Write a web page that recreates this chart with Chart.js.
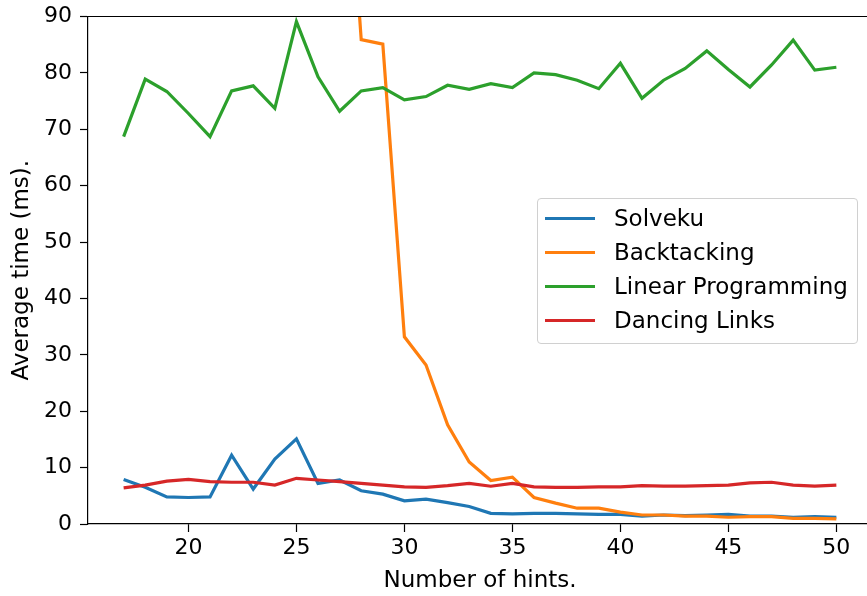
<!DOCTYPE html>
<html>
<head>
<meta charset="utf-8">
<script src="https://cdn.jsdelivr.net/npm/chart.js@4/dist/chart.umd.min.js"></script>
<style>
  body { margin: 0; overflow: hidden; background: #fff; }
  #wrap { position: relative; width: 880px; height: 596px; }
  #legend {
    position: absolute; left: 537px; top: 198px; width: 319px; height: 142px;
    border: 1.5px solid #d0d0d0; border-radius: 4px; background: rgba(255,255,255,0.8);
    font-family: "DejaVu Sans", sans-serif; font-size: 23px; color: #000;
    padding-top: 2px; box-sizing: content-box;
  }
  #legend .row { height: 34px; display: flex; align-items: center; }
  #legend .swatch { width: 50px; height: 3px; margin-left: 7px; margin-right: 19px; }
</style>
</head>
<body>
<div id="wrap">
  <canvas id="chart" width="880" height="596"></canvas>
  <div id="legend"></div>
</div>
<script>
var hints = [17, 18, 19, 20, 21, 22, 23, 24, 25, 26, 27, 28, 29, 30, 31, 32, 33,
             34, 35, 36, 37, 38, 39, 40, 41, 42, 43, 44, 45, 46, 47, 48, 49, 50];

var solveku = [7.9, 6.5, 4.8, 4.7, 4.8, 12.2, 6.2, 11.5, 15.1, 7.2, 7.8, 5.9, 5.3, 4.1, 4.4, 3.8, 3.1,
               1.9, 1.8, 1.9, 1.9, 1.8, 1.7, 1.7, 1.4, 1.6, 1.5, 1.6, 1.7, 1.4, 1.4, 1.2, 1.3, 1.2];

// values below 28 hints are far above the visible range
var backtracking = [5200, 3900, 2800, 2100, 1500, 1050, 760, 520, 350, 230, 140, 85.9, 85.1, 33.2, 28.2, 17.6, 11.0,
                    7.7, 8.3, 4.7, 3.7, 2.8, 2.8, 2.1, 1.6, 1.6, 1.4, 1.4, 1.2, 1.3, 1.3, 1.0, 1.0, 0.9];

var linearProg = [68.7, 78.9, 76.7, 72.8, 68.7, 76.8, 77.7, 73.7, 89.1, 79.3, 73.2, 76.8, 77.4, 75.2, 75.8, 77.8, 77.1,
                  78.1, 77.4, 80.0, 79.7, 78.7, 77.2, 81.7, 75.5, 78.7, 80.8, 83.9, 80.6, 77.5, 81.4, 85.8, 80.5, 81.0];

var dancingLinks = [6.4, 6.9, 7.6, 7.9, 7.5, 7.4, 7.4, 6.9, 8.1, 7.8, 7.5, 7.2, 6.9, 6.6, 6.5, 6.8, 7.2,
                    6.7, 7.2, 6.6, 6.5, 6.5, 6.6, 6.6, 6.8, 6.7, 6.7, 6.8, 6.9, 7.3, 7.4, 6.9, 6.7, 6.9];

var labels = ['Solveku', 'Backtacking', 'Linear Programming', 'Dancing Links'];
var colors = ['#1f77b4', '#ff7f0e', '#2ca02c', '#d62728'];
var xTicks = [20, 25, 30, 35, 40, 45, 50];

var tickFont = { family: '"DejaVu Sans", sans-serif', size: 22 };
var titleFont = { family: '"DejaVu Sans", sans-serif', size: 23 };

function toPoints(vals) {
    return vals.map(function(v, i) { return { x: hints[i], y: v }; });
}

var series = [solveku, backtracking, linearProg, dancingLinks];
var datasets = series.map(function(vals, i) {
    return {
        label: labels[i],
        data: toPoints(vals),
        borderColor: colors[i],
        backgroundColor: colors[i],
        borderWidth: 3.2,
        pointRadius: 0,
        tension: 0,
        order: series.length - i
    };
});

// matplotlib-style top/right spines
var frame = {
    id: 'frame',
    afterDraw: function(chart) {
        var a = chart.chartArea, ctx = chart.ctx;
        ctx.save();
        ctx.strokeStyle = '#000';
        ctx.lineWidth = 1.2;
        ctx.beginPath();
        ctx.moveTo(a.left, a.top);
        ctx.lineTo(a.right, a.top);
        ctx.lineTo(a.right, a.bottom);
        ctx.stroke();
        ctx.restore();
    }
};

var ctx = document.getElementById('chart').getContext('2d');
var chart = new Chart(ctx, {
    type: 'line',
    data: { datasets: datasets },
    plugins: [frame],
    options: {
        responsive: false,
        animation: false,
        layout: { padding: { top: 16.5, right: 8, left: 0, bottom: 0 } },
        plugins: { legend: { display: false }, tooltip: { enabled: false } },
        scales: {
            x: {
                type: 'linear',
                min: 15.35,
                max: 51.65,
                afterBuildTicks: function(axis) {
                    axis.ticks = xTicks.map(function(v) { return { value: v }; });
                },
                afterFit: function(scale) {
                    scale.height = 72;
                    scale.paddingLeft = 0;
                    scale.paddingRight = 0;
                },
                grid: { drawOnChartArea: false, tickLength: 8, tickColor: '#000', tickWidth: 1.2 },
                border: { color: '#000', width: 1.2 },
                ticks: { color: '#000', font: tickFont, padding: 3, maxRotation: 0 },
                title: { display: true, text: 'Number of hints.', color: '#000', font: titleFont, padding: { top: 0, bottom: 1 } }
            },
            y: {
                min: 0,
                max: 90,
                ticks: { stepSize: 10, color: '#000', font: tickFont, padding: 8 },
                afterFit: function(scale) {
                    scale.width = 88;
                    scale.paddingTop = 0;
                    scale.paddingBottom = 0;
                },
                grid: { drawOnChartArea: false, tickLength: 8, tickColor: '#000', tickWidth: 1.2 },
                border: { color: '#000', width: 1.2 },
                title: { display: true, text: 'Average time (ms).', color: '#000', font: titleFont, padding: { top: 8, bottom: 0 } }
            }
        }
    }
});

var legendBox = document.getElementById('legend');
chart.data.datasets.forEach(function(ds) {
    var row = document.createElement('div');
    row.className = 'row';
    var sw = document.createElement('span');
    sw.className = 'swatch';
    sw.style.background = ds.borderColor;
    var txt = document.createElement('span');
    txt.textContent = ds.label;
    row.appendChild(sw);
    row.appendChild(txt);
    legendBox.appendChild(row);
});
</script>
</body>
</html>
